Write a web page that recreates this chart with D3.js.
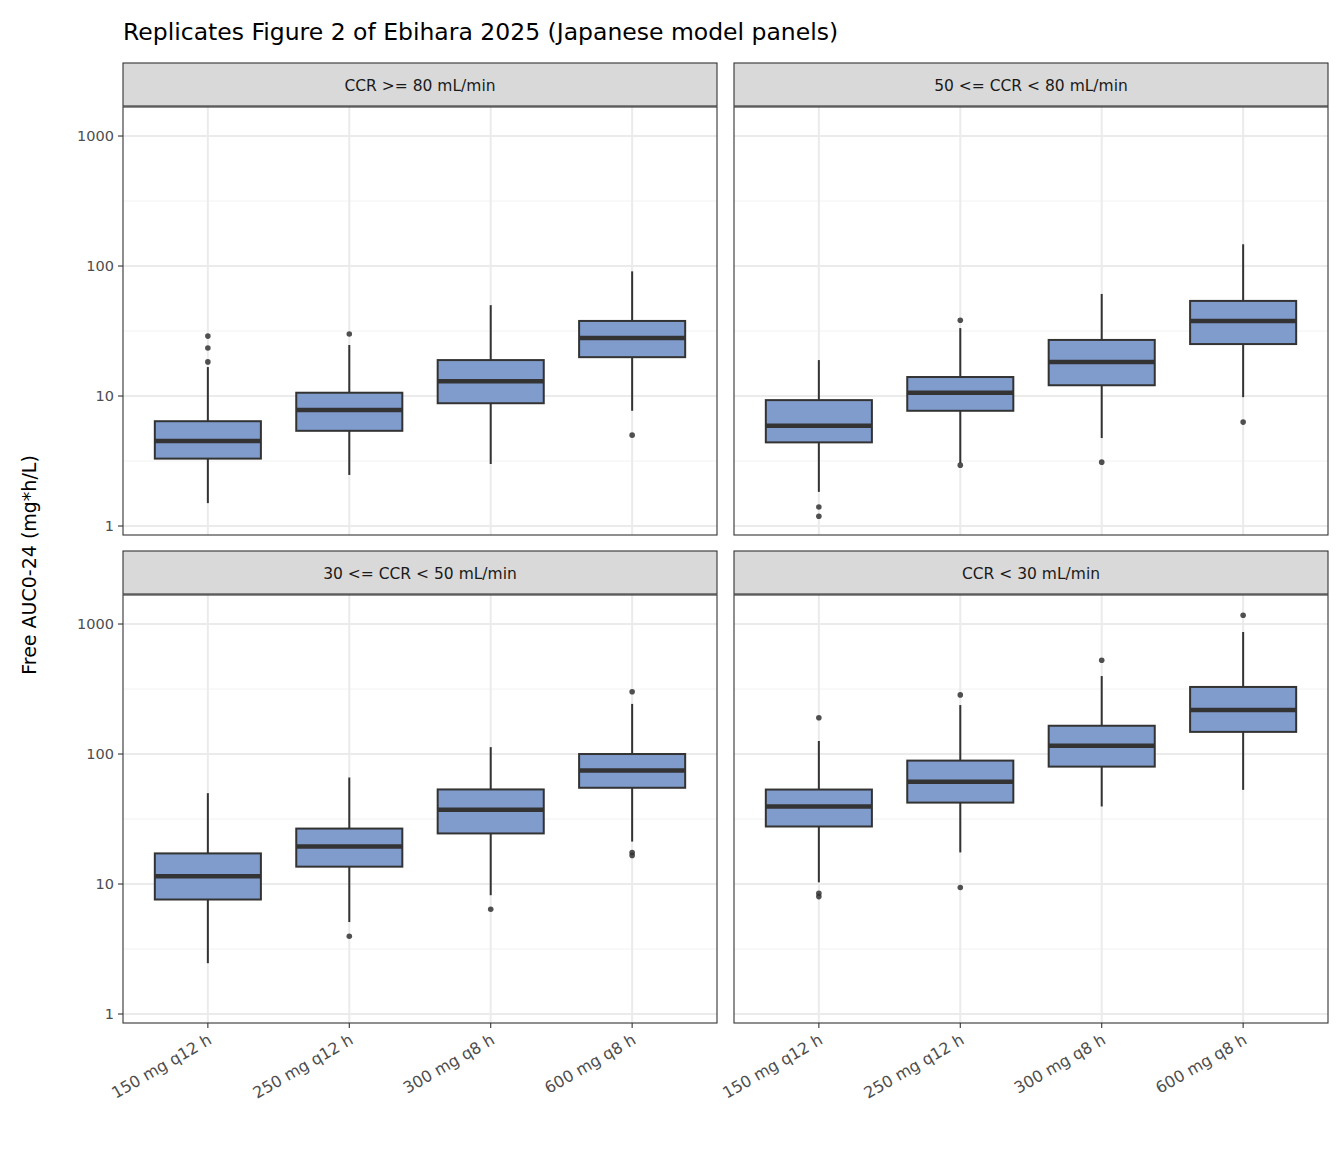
<!DOCTYPE html>
<html><head><meta charset="utf-8">
<script src="https://cdn.jsdelivr.net/npm/d3@7"></script>
<style>body{margin:0;background:#fff}text{font-family:"DejaVu Sans",sans-serif}</style>
</head><body><div id="chart"></div>
<script>
var facets = ["CCR >= 80 mL/min", "50 <= CCR < 80 mL/min", "30 <= CCR < 50 mL/min", "CCR < 30 mL/min"];
var doses = ["150 mg q12 h", "250 mg q12 h", "300 mg q8 h", "600 mg q8 h"];
var yTicks = [1, 10, 100, 1000];
// [lower whisker, Q1, median, Q3, upper whisker] per facet, per dose
var boxStats = [
  [[1.5, 3.3, 4.5, 6.4, 16.7], [2.47, 5.4, 7.8, 10.6, 24.7], [3.0, 8.8, 13.0, 18.9, 50], [7.7, 19.9, 27.9, 37.8, 91]],
  [[1.83, 4.4, 5.9, 9.3, 18.9], [3.05, 7.7, 10.6, 14.0, 33.3], [4.75, 12.1, 18.3, 27.0, 61], [9.8, 25.1, 37.8, 53.9, 147]],
  [[2.46, 7.6, 11.5, 17.2, 50], [5.1, 13.6, 19.4, 26.7, 66], [8.2, 24.5, 37.3, 53.4, 113], [21.2, 55, 74.6, 100, 243]],
  [[10.3, 27.7, 39.5, 53.3, 126], [17.5, 42.3, 61.3, 89, 238], [39.5, 80, 116, 165, 398], [53, 148, 218, 328, 868]]
];
var outliers = [
  [[28.9, 23.4, 18.3], [30.0], [], [5.0]],
  [[1.40, 1.19], [38.3, 2.94], [3.1], [6.3]],
  [[], [3.97], [6.4], [301, 17.5, 16.6]],
  [[190, 8.5, 8.0], [285, 9.4], [527], [1168]]
];

var W = 1344, H = 1152;
var svg = d3.select("#chart").append("svg").attr("width", W).attr("height", H);

svg.append("text").attr("x", 123).attr("y", 40).attr("font-size", 23.5).attr("fill", "#000")
  .text("Replicates Figure 2 of Ebihara 2025 (Japanese model panels)");

svg.append("text").attr("transform", "translate(36," + 565 + ") rotate(-90)")
  .attr("text-anchor", "middle").attr("font-size", 19).attr("fill", "#000")
  .text("Free AUC0-24 (mg*h/L)");

var panelX = [123, 734], panelW = 594;
var panelY = [107, 595], panelH = 428, stripH = 43;

facets.forEach(function(name, fi) {
  var col = fi % 2, row = Math.floor(fi / 2);
  var x0 = panelX[col], y0 = panelY[row];
  var g = svg.append("g").attr("transform", "translate(" + x0 + "," + y0 + ")");

  var x = d3.scaleBand().domain(doses).range([0, panelW]).paddingOuter(0.1).paddingInner(0);
  // ggplot discrete expansion 0.6 each side
  x.paddingOuter(0.1 / 1).range([0, panelW]);
  var unit = panelW / 4.2;
  var cx = function(d) { return unit * (0.6 + doses.indexOf(d)); };
  var y = d3.scaleLog().domain([0.853, 1672]).range([panelH, 0]);

  // strip
  svg.append("rect").attr("x", x0).attr("y", y0 - stripH - 1).attr("width", panelW).attr("height", stripH)
    .attr("fill", "#d9d9d9").attr("stroke", "#333").attr("stroke-width", 1.1);
  svg.append("text").attr("x", x0 + panelW / 2).attr("y", y0 - stripH / 2 + 5).attr("text-anchor", "middle")
    .attr("font-size", 15.5).attr("fill", "#1a1a1a").text(name);

  // grids
  [Math.sqrt(10), Math.sqrt(1000), Math.sqrt(100000)].forEach(function(v) {
    g.append("line").attr("x1", 0).attr("x2", panelW).attr("y1", y(v)).attr("y2", y(v))
      .attr("stroke", "#f2f2f2").attr("stroke-width", 1);
  });
  yTicks.forEach(function(v) {
    g.append("line").attr("x1", 0).attr("x2", panelW).attr("y1", y(v)).attr("y2", y(v))
      .attr("stroke", "#ebebeb").attr("stroke-width", 2);
  });
  doses.forEach(function(d) {
    g.append("line").attr("x1", cx(d)).attr("x2", cx(d)).attr("y1", 0).attr("y2", panelH)
      .attr("stroke", "#ebebeb").attr("stroke-width", 2);
  });

  var bw = unit * 0.75;
  doses.forEach(function(d, di) {
    var s = boxStats[fi][di], c = cx(d);
    g.append("line").attr("x1", c).attr("x2", c).attr("y1", y(s[0])).attr("y2", y(s[4]))
      .attr("stroke", "#333").attr("stroke-width", 2);
    g.append("rect").attr("x", c - bw / 2).attr("width", bw).attr("y", y(s[3])).attr("height", y(s[1]) - y(s[3]))
      .attr("fill", "#809ccc").attr("stroke", "#333").attr("stroke-width", 2);
    g.append("line").attr("x1", c - bw / 2).attr("x2", c + bw / 2).attr("y1", y(s[2])).attr("y2", y(s[2]))
      .attr("stroke", "#333").attr("stroke-width", 4.5);
    outliers[fi][di].forEach(function(v) {
      g.append("circle").attr("cx", c).attr("cy", y(v)).attr("r", 2.8).attr("fill", "#333").attr("opacity", 0.85);
    });
  });

  g.append("rect").attr("width", panelW).attr("height", panelH).attr("fill", "none")
    .attr("stroke", "#333").attr("stroke-width", 1.1);

  if (col === 0) {
    yTicks.forEach(function(v) {
      g.append("line").attr("x1", -5).attr("x2", 0).attr("y1", y(v)).attr("y2", y(v)).attr("stroke", "#333").attr("stroke-width", 1.1);
      g.append("text").attr("x", -9).attr("y", y(v) + 5).attr("text-anchor", "end")
        .attr("font-size", 14.5).attr("fill", "#4d4d4d").text(v);
    });
  }
  if (row === 1) {
    doses.forEach(function(d) {
      g.append("line").attr("x1", cx(d)).attr("x2", cx(d)).attr("y1", panelH).attr("y2", panelH + 5)
        .attr("stroke", "#333").attr("stroke-width", 1.1);
      g.append("text").attr("transform", "translate(" + (cx(d) + 5) + "," + (panelH + 20) + ") rotate(-30)")
        .attr("text-anchor", "end").attr("font-size", 16).attr("fill", "#4d4d4d").text(d);
    });
  }
});
</script></body></html>
